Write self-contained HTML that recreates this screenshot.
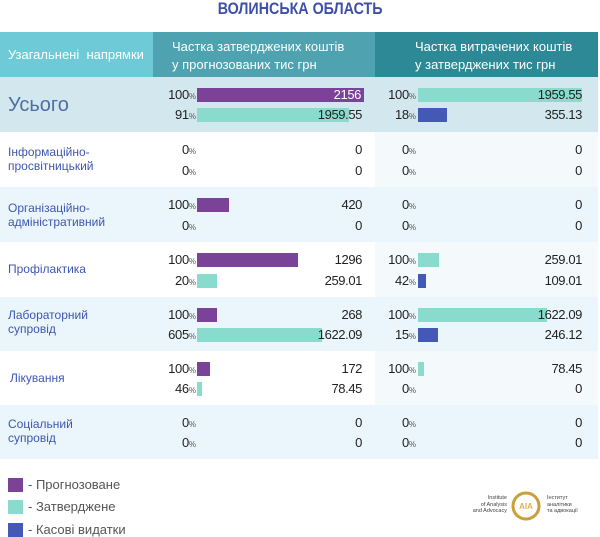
<!DOCTYPE html>
<html><head><meta charset="utf-8">
<style>
*{margin:0;padding:0;box-sizing:border-box}
body{width:600px;height:537px;background:#fff;position:relative;overflow:hidden;font-family:"Liberation Sans","DejaVu Sans",sans-serif}
.a{position:absolute}
.title{left:0;width:600px;top:0;text-align:center;font-weight:bold;font-size:17px;line-height:18px;color:#3e4fa7}
.title span{display:inline-block;transform:scaleX(0.84);transform-origin:center}
.hd{top:32px;height:45px}
.ht{color:#fff;font-size:13px;line-height:18px}
.row{left:0;width:598px;height:55px}
.lbl{left:8px;width:145px;color:#3e56b0;font-size:12px;line-height:14px;display:flex;align-items:center}
.bar{height:14px}
.p{background:#7b4397}.t{background:#89dccd}.b{background:#4459b5}
.pc{width:50px;text-align:right;font-size:13px;line-height:14px;color:#222;letter-spacing:-0.3px;height:14px}
.pc small{font-size:8px;color:#555;letter-spacing:0}
.v{width:120px;text-align:right;font-size:13px;line-height:14px;color:#222;letter-spacing:-0.4px;height:14px}
.leg{left:8px;width:15px;height:14px}
.lt{left:28px;font-size:13px;color:#555;line-height:14px}
</style></head><body>
<div class="a title"><span>ВОЛИНСЬКА ОБЛАСТЬ</span></div>

<!-- header -->
<div class="a hd" style="left:0;width:153px;background:#6ecad7"></div>
<div class="a hd" style="left:153px;width:222px;background:#4fa3b1"></div>
<div class="a hd" style="left:375px;width:223px;background:#2d8996"></div>
<div class="a ht" style="left:8px;top:46px;white-space:pre">Узагальнені  напрямки</div>
<div class="a ht" style="left:172px;top:38px">Частка затверджених коштів<br>у прогнозованих тис грн</div>
<div class="a ht" style="left:415px;top:38px">Частка витрачених коштів<br>у затверджених тис грн</div>

<!-- row backgrounds -->
<div class="a row" style="top:77px;background:#d3e7ee"></div>
<div class="a" style="top:132px;left:375px;width:223px;height:55px;background:#f4fafc"></div>
<div class="a row" style="top:187px;background:#eaf6fb"></div>
<div class="a" style="top:242px;left:375px;width:223px;height:55px;background:#f4fafc"></div>
<div class="a row" style="top:297px;height:54px;background:#eaf6fb"></div>
<div class="a" style="top:351px;left:375px;width:223px;height:54px;background:#f4fafc"></div>
<div class="a row" style="top:405px;height:54px;background:#eaf6fb"></div>

<!-- labels -->
<div class="a" style="left:8px;top:93px;font-size:20px;line-height:24px;color:#4f6ea5">Усього</div>
<div class="a lbl" style="top:132px;height:53px">Інформаційно-<br>просвітницький</div>
<div class="a lbl" style="top:187px;height:55px">Організаційно-<br>адміністративний</div>
<div class="a lbl" style="top:242px;height:53px">Профілактика</div>
<div class="a lbl" style="top:297px;height:50px">Лабораторний<br>супровід</div>
<div class="a lbl" style="top:351px;height:54px;left:10px">Лікування</div>
<div class="a lbl" style="top:405px;height:51px">Соціальний<br>супровід</div>

<!-- Row 0: Усього top 77 -->
<div class="a pc" style="left:146px;top:88px">100<small>%</small></div>
<div class="a bar p" style="left:197px;top:88px;width:167px"></div>
<div class="a v" style="left:241px;top:88px;color:#fff">2156</div>
<div class="a pc" style="left:146px;top:108px">91<small>%</small></div>
<div class="a bar t" style="left:197px;top:108px;width:152px"></div>
<div class="a v" style="left:242px;top:108px">1959.55</div>
<div class="a pc" style="left:366px;top:88px">100<small>%</small></div>
<div class="a bar t" style="left:418px;top:88px;width:164px"></div>
<div class="a v" style="left:462px;top:88px">1959.55</div>
<div class="a pc" style="left:366px;top:108px">18<small>%</small></div>
<div class="a bar b" style="left:418px;top:108px;width:29px"></div>
<div class="a v" style="left:462px;top:108px">355.13</div>

<!-- Row 1: top 132 -->
<div class="a pc" style="left:146px;top:143px">0<small>%</small></div>
<div class="a v" style="left:242px;top:143px">0</div>
<div class="a pc" style="left:146px;top:164px">0<small>%</small></div>
<div class="a v" style="left:242px;top:164px">0</div>
<div class="a pc" style="left:366px;top:143px">0<small>%</small></div>
<div class="a v" style="left:462px;top:143px">0</div>
<div class="a pc" style="left:366px;top:164px">0<small>%</small></div>
<div class="a v" style="left:462px;top:164px">0</div>

<!-- Row 2: top 187 -->
<div class="a pc" style="left:146px;top:198px">100<small>%</small></div>
<div class="a bar p" style="left:197px;top:198px;width:32px"></div>
<div class="a v" style="left:242px;top:198px">420</div>
<div class="a pc" style="left:146px;top:219px">0<small>%</small></div>
<div class="a v" style="left:242px;top:219px">0</div>
<div class="a pc" style="left:366px;top:198px">0<small>%</small></div>
<div class="a v" style="left:462px;top:198px">0</div>
<div class="a pc" style="left:366px;top:219px">0<small>%</small></div>
<div class="a v" style="left:462px;top:219px">0</div>

<!-- Row 3: top 242 -->
<div class="a pc" style="left:146px;top:253px">100<small>%</small></div>
<div class="a bar p" style="left:197px;top:253px;width:101px"></div>
<div class="a v" style="left:242px;top:253px">1296</div>
<div class="a pc" style="left:146px;top:274px">20<small>%</small></div>
<div class="a bar t" style="left:197px;top:274px;width:20px"></div>
<div class="a v" style="left:242px;top:274px">259.01</div>
<div class="a pc" style="left:366px;top:253px">100<small>%</small></div>
<div class="a bar t" style="left:418px;top:253px;width:21px"></div>
<div class="a v" style="left:462px;top:253px">259.01</div>
<div class="a pc" style="left:366px;top:274px">42<small>%</small></div>
<div class="a bar b" style="left:418px;top:274px;width:8px"></div>
<div class="a v" style="left:462px;top:274px">109.01</div>

<!-- Row 4: top 297 -->
<div class="a pc" style="left:146px;top:308px">100<small>%</small></div>
<div class="a bar p" style="left:197px;top:308px;width:20px"></div>
<div class="a v" style="left:242px;top:308px">268</div>
<div class="a pc" style="left:146px;top:328px">605<small>%</small></div>
<div class="a bar t" style="left:197px;top:328px;width:125px"></div>
<div class="a v" style="left:242px;top:328px">1622.09</div>
<div class="a pc" style="left:366px;top:308px">100<small>%</small></div>
<div class="a bar t" style="left:418px;top:308px;width:129px"></div>
<div class="a v" style="left:462px;top:308px">1622.09</div>
<div class="a pc" style="left:366px;top:328px">15<small>%</small></div>
<div class="a bar b" style="left:418px;top:328px;width:20px"></div>
<div class="a v" style="left:462px;top:328px">246.12</div>

<!-- Row 5: top 351 -->
<div class="a pc" style="left:146px;top:362px">100<small>%</small></div>
<div class="a bar p" style="left:197px;top:362px;width:13px"></div>
<div class="a v" style="left:242px;top:362px">172</div>
<div class="a pc" style="left:146px;top:382px">46<small>%</small></div>
<div class="a bar t" style="left:197px;top:382px;width:5px"></div>
<div class="a v" style="left:242px;top:382px">78.45</div>
<div class="a pc" style="left:366px;top:362px">100<small>%</small></div>
<div class="a bar t" style="left:418px;top:362px;width:6px"></div>
<div class="a v" style="left:462px;top:362px">78.45</div>
<div class="a pc" style="left:366px;top:382px">0<small>%</small></div>
<div class="a v" style="left:462px;top:382px">0</div>

<!-- Row 6: top 405 -->
<div class="a pc" style="left:146px;top:416px">0<small>%</small></div>
<div class="a v" style="left:242px;top:416px">0</div>
<div class="a pc" style="left:146px;top:436px">0<small>%</small></div>
<div class="a v" style="left:242px;top:436px">0</div>
<div class="a pc" style="left:366px;top:416px">0<small>%</small></div>
<div class="a v" style="left:462px;top:416px">0</div>
<div class="a pc" style="left:366px;top:436px">0<small>%</small></div>
<div class="a v" style="left:462px;top:436px">0</div>

<!-- legend -->
<div class="a leg p" style="top:478px"></div>
<div class="a lt" style="top:478px">- Прогнозоване</div>
<div class="a leg t" style="top:500px"></div>
<div class="a lt" style="top:500px">- Затверджене</div>
<div class="a leg b" style="top:523px"></div>
<div class="a lt" style="top:523px">- Касові видатки</div>

<!-- logo -->
<div class="a" style="left:460px;top:495px;width:47px;text-align:right;font-size:5.5px;line-height:6.5px;color:#444">Institute<br>of Analysis<br>and Advocacy</div>
<svg class="a" style="left:510px;top:490px" width="32" height="32" viewBox="0 0 32 32">
<circle cx="16" cy="16" r="13" fill="#fff" stroke="#c9a03a" stroke-width="3"/>
<text x="16" y="19" text-anchor="middle" font-family="Liberation Sans, sans-serif" font-size="8" font-weight="bold" fill="#d9b24a">AIA</text>
</svg>
<div class="a" style="left:547px;top:495px;font-size:5.5px;line-height:6.5px;color:#444">Інститут<br>аналітики<br>та адвокації</div>
</body></html>
